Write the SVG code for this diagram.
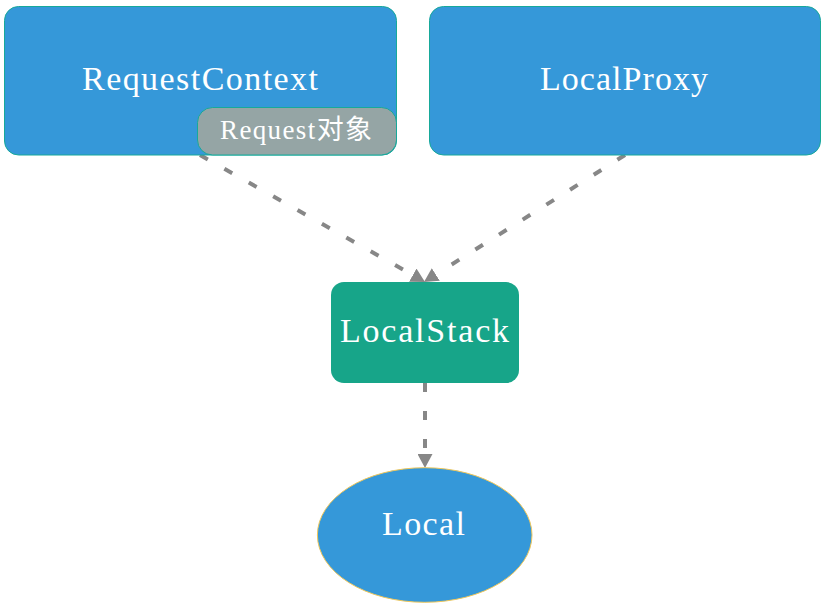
<svg xmlns="http://www.w3.org/2000/svg" width="825" height="608" viewBox="0 0 825 608">
<style>
.box{fill:#3598d9;stroke:#17a99a;stroke-width:1}
.lbl{fill:#ffffff;font-family:"Liberation Serif","Noto Sans CJK SC",serif;font-size:34px;text-anchor:middle}
.edge{fill:none;stroke:#878787;stroke-width:4;stroke-dasharray:9 19}
</style>
<defs>
<marker id="arr" markerUnits="userSpaceOnUse" markerWidth="14" markerHeight="15" refX="0" refY="7.5" orient="auto" viewBox="0 0 14 15">
<path d="M0,0 L14,7.5 L0,15 z" fill="#878787"/>
</marker>
</defs>
<rect width="825" height="608" fill="#ffffff"/>
<g id="connectors">
<path class="edge" d="M200,155 L412.8,275.1" marker-end="url(#arr)"/>
<path class="edge" d="M625,155 L435.8,274.5" marker-end="url(#arr)"/>
<path class="edge" d="M425,383 L425,454" marker-end="url(#arr)"/>
</g>
<g id="node-requestcontext">
<rect class="box" x="4.5" y="6.5" width="392" height="148.5" rx="14"/>
<text class="lbl" x="200" y="90" textLength="236">RequestContext</text>
</g>
<g id="node-request">
<rect x="197.5" y="107.5" width="199" height="47.5" rx="15" fill="#95a5a5" stroke="#17a99a" stroke-width="1"/>
<text class="lbl" x="296" y="139" style="font-size:27px" textLength="152">Request对象</text>
</g>
<g id="node-localproxy">
<rect class="box" x="429.5" y="6.5" width="391" height="148.5" rx="14"/>
<text class="lbl" x="624" y="90" textLength="168">LocalProxy</text>
</g>
<g id="node-localstack">
<rect x="331" y="282" width="188" height="101" rx="13" fill="#17a589"/>
<text class="lbl" x="424.5" y="342" textLength="169">LocalStack</text>
</g>
<g id="node-local">
<ellipse cx="424.7" cy="535" rx="107.3" ry="67.3" fill="#3598d9" stroke="#f0c75a" stroke-width="1"/>
<text class="lbl" x="423.5" y="535" textLength="83">Local</text>
</g>
</svg>
